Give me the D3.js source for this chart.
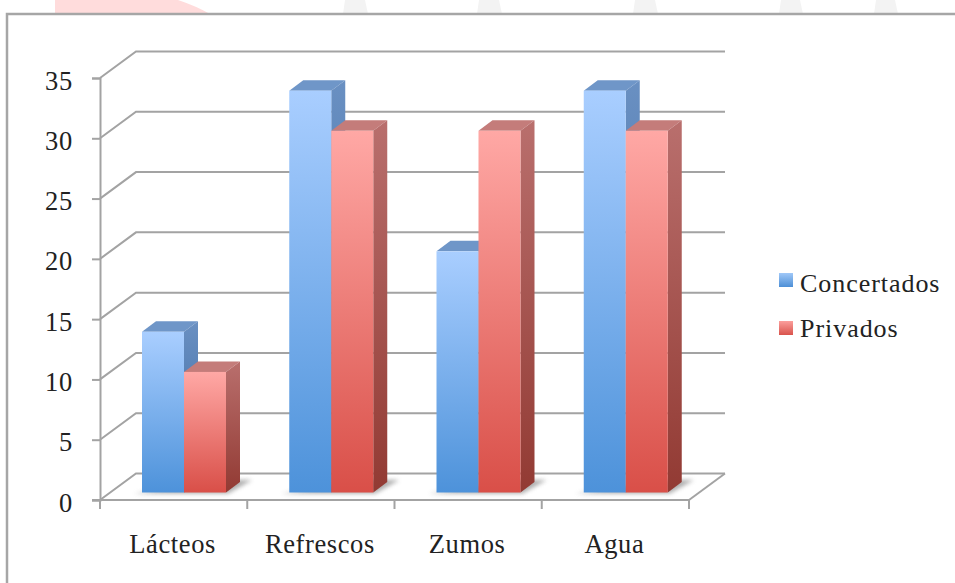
<!DOCTYPE html>
<html lang="es">
<head>
<meta charset="utf-8">
<title>Consumo de bebidas por tipo de centro</title>
<script src="https://cdn.jsdelivr.net/npm/d3@7/dist/d3.min.js"></script>
<style>
  html, body { margin: 0; padding: 0; background: #fff; }
  svg { display: block; }
  text { font-family: "Liberation Serif", serif; fill: #222; }
  .axis path, .axis line { stroke: #a3a3a3; stroke-width: 2; }
  .axis text { font-size: 26.5px; font-family: "Liberation Serif", serif; fill: #222; }
</style>
</head>
<body>
<svg id="chart" width="955" height="583"></svg>
<script>
// Chart values
const categories = ["Lácteos", "Refrescos", "Zumos", "Agua"];
const seriesNames = ["Concertados", "Privados"];
const concertados = [13.33, 33.33, 20, 33.33];
const privados = [10, 30, 30, 30];
const yTicks = [0, 5, 10, 15, 20, 25, 30, 35];

const svg = d3.select("#chart");
const defs = svg.append("defs");

// Each bar face shades from light at its own top to saturated at its own base
function verticalGradient(id, top, bottom) {
  const g = defs.append("linearGradient").attr("id", id)
    .attr("x1", 0).attr("x2", 0).attr("y1", 0).attr("y2", 1);
  g.append("stop").attr("offset", 0).attr("stop-color", top);
  g.append("stop").attr("offset", 1).attr("stop-color", bottom);
}
verticalGradient("front0", "#a9ceff", "#4d92da");
verticalGradient("front1", "#ffa8a5", "#d94f48");
verticalGradient("side0", "#6a90c2", "#35649c");
verticalGradient("side1", "#b96f6d", "#923a33");
verticalGradient("key0", "#a0c8f8", "#4d8fd6");
verticalGradient("key1", "#fb9f9c", "#d9534c");

defs.append("filter").attr("id", "soft")
  .attr("x", "-20%").attr("y", "-60%").attr("width", "140%").attr("height", "220%")
  .append("feGaussianBlur").attr("stdDeviation", 2.2);

// Faded emblem shapes above the chart frame
const emblem = svg.append("g");
emblem.append("path").attr("d", "M55,0 L178,0 Q196,6 210,14 L55,14 Z").attr("fill", "#ffdcdc");
[[345, 368], [479, 502], [635, 658], [781, 803], [876, 898]].forEach(([a, b]) => {
  emblem.append("path")
    .attr("d", `M${a},0 L${b - 3},0 L${b},14 L${a - 2},14 Z`)
    .attr("fill", "#f3f3f3");
});

// Chart frame: only the top and left edges fall inside the page
svg.append("path").attr("d", "M7,583 V14 H955")
  .attr("fill", "none").attr("stroke", "#a6a6a6").attr("stroke-width", 2.5);

// Scales
const x = d3.scaleBand().domain(categories).range([100, 689]);
const y = d3.scaleLinear().domain([0, 35]).range([500, 78]);
const inner = d3.scaleBand().domain(seriesNames).range([42, 126]);

// Oblique projection: wall offset and the offset of the bars' front faces
const wall = { dx: 36, dy: -26.5 };
const front = { dx: 0, dy: -7.5 };
const depth = { dx: 14, dy: -10.5 };

// Back wall gridlines with their slanted returns to the value axis
const grid = svg.append("g");
grid.selectAll("path").data(yTicks).join("path")
  .attr("fill", "none").attr("stroke", "#a3a3a3").attr("stroke-width", 2)
  .attr("d", d => `M${x.range()[0]},${y(d)} L${x.range()[0] + wall.dx},${y(d) + wall.dy} H${x.range()[1] + wall.dx}`);

// Right edge of the floor
grid.append("path")
  .attr("fill", "none").attr("stroke", "#a3a3a3").attr("stroke-width", 2)
  .attr("d", `M${x.range()[1]},${y(0)} L${x.range()[1] + wall.dx},${y(0) + wall.dy}`);

// Axes
const yAxis = svg.append("g").attr("class", "axis")
  .attr("transform", `translate(${x.range()[0]},0)`)
  .call(d3.axisLeft(y).tickValues(yTicks).tickSize(8).tickPadding(19).tickFormat(d3.format("d")));
yAxis.selectAll("text").attr("dy", "0.42em").attr("letter-spacing", 0.7);

const tickStops = categories.map(c => x(c)).concat(x.range()[1]);
const xAxis = svg.append("g").attr("class", "axis");
xAxis.append("line").attr("x1", x.range()[0] - 8).attr("x2", x.range()[1])
  .attr("y1", y(0)).attr("y2", y(0));
xAxis.selectAll("line.tick").data(tickStops).join("line").attr("class", "tick")
  .attr("x1", d => d).attr("x2", d => d)
  .attr("y1", y(0)).attr("y2", y(0) + 9);
xAxis.selectAll("text").data(categories).join("text")
  .attr("x", d => x(d) + x.bandwidth() / 2 - 1)
  .attr("y", 553)
  .attr("text-anchor", "middle")
  .attr("letter-spacing", 0.6)
  .text(d => d);

// Bars
const values = [concertados, privados];
const plot = svg.append("g");
const w = inner.bandwidth();

// Floor shadows go beneath every bar
categories.forEach(c => {
  const left = x(c) + inner(seriesNames[0]);
  const right = x(c) + inner(seriesNames[1]) + w;
  const base = y(0) + front.dy;
  plot.append("path")
    .attr("d", `M${left - 8},${base + 1} L${right + 2},${base + 1} L${right + depth.dx + 12},${base + depth.dy - 2} L${right},${base + depth.dy - 2} Z`)
    .attr("fill", "#777").attr("opacity", 0.6).attr("filter", "url(#soft)");
});

categories.forEach((c, i) => {
  seriesNames.forEach((s, k) => {
    const x0 = x(c) + inner(s) + front.dx;
    const x1 = x0 + w;
    const yt = y(values[k][i]) + front.dy;
    const yb = y(0) + front.dy;
    const bar = plot.append("g").attr("class", "bar");
    bar.append("path")
      .attr("d", `M${x0},${yt} L${x0 + depth.dx},${yt + depth.dy} H${x1 + depth.dx} L${x1},${yt} Z`)
      .attr("fill", k === 0 ? "#6f96c8" : "#c47c7a");
    bar.append("path")
      .attr("d", `M${x1},${yt} L${x1 + depth.dx},${yt + depth.dy} V${yb + depth.dy} L${x1},${yb} Z`)
      .attr("fill", `url(#side${k})`);
    bar.append("rect")
      .attr("x", x0).attr("y", yt).attr("width", w).attr("height", yb - yt)
      .attr("fill", `url(#front${k})`);
  });
});

// Legend
const legend = svg.append("g");
const keyY = d3.scalePoint().domain(seriesNames).range([273, 321]);
const labelY = d3.scalePoint().domain(seriesNames).range([292, 337]);
seriesNames.forEach((s, k) => {
  legend.append("rect")
    .attr("x", 779).attr("y", keyY(s)).attr("width", 14).attr("height", 14)
    .attr("fill", `url(#key${k})`);
  legend.append("text")
    .attr("x", 800).attr("y", labelY(s))
    .attr("font-size", 26).attr("letter-spacing", 0.95)
    .text(s);
});
</script>
</body>
</html>
